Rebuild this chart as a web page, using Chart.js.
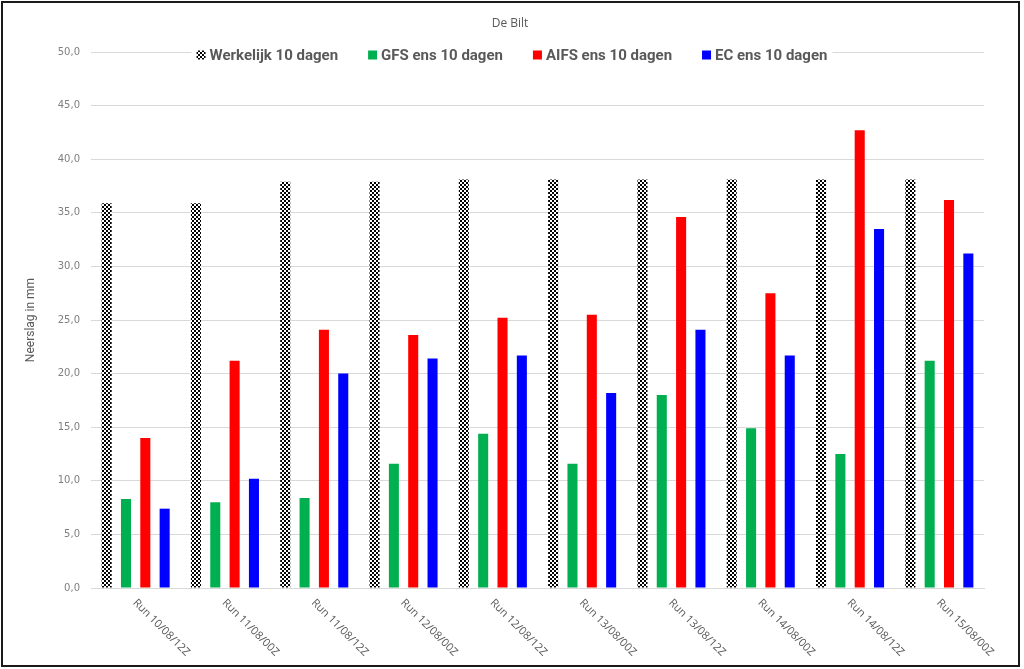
<!DOCTYPE html>
<html>
<head>
<meta charset="utf-8">
<title>De Bilt</title>
<script src="https://cdn.jsdelivr.net/npm/chart.js@4"></script>
<style>
  html, body { margin: 0; padding: 0; background: #fff; }
  #wrap { width: 1024px; height: 669px; position: relative; }
</style>
</head>
<body>
<div id="wrap"><canvas id="barChart" width="1024" height="669"></canvas></div>
<script>
// Values
const runs = ["Run 10/08/12Z", "Run 11/08/00Z", "Run 11/08/12Z", "Run 12/08/00Z", "Run 12/08/12Z",
	"Run 13/08/00Z", "Run 13/08/12Z", "Run 14/08/00Z", "Run 14/08/12Z", "Run 15/08/00Z"];
const werkelijk = [35.9, 35.9, 37.9, 37.9, 38.1, 38.1, 38.1, 38.1, 38.1, 38.1];
const gfs = [8.3, 8.0, 8.4, 11.6, 14.4, 11.6, 18.0, 14.9, 12.5, 21.2];
const aifs = [14.0, 21.2, 24.1, 23.6, 25.2, 25.5, 34.6, 27.5, 42.7, 36.2];
const ec = [7.4, 10.2, 20.0, 21.4, 21.7, 18.2, 24.1, 21.7, 33.5, 31.2];
const seriesNames = ["Werkelijk 10 dagen", "GFS ens 10 dagen", "AIFS ens 10 dagen", "EC ens 10 dagen"];

const textGray = "#595959";

// checkerboard fill for the "Werkelijk" bars
function checker() {
	const c = document.createElement("canvas");
	c.width = 4;
	c.height = 4;
	const g = c.getContext("2d");
	g.fillStyle = "#fff";
	g.fillRect(0, 0, 4, 4);
	g.fillStyle = "#000";
	g.fillRect(0, 0, 2, 2);
	g.fillRect(2, 2, 2, 2);
	return g.createPattern(c, "repeat");
}
const ctx = document.getElementById("barChart").getContext("2d");
const checkFill = checker();

// title, overlaid legend, slanted run labels and the outer frame
const decor = {
	id: "decor",
	afterDraw(chart) {
		const g = chart.ctx;
		const area = chart.chartArea;
		g.save();

		// title
		g.fillStyle = textGray;
		g.font = "12px 'Open Sans'";
		g.textAlign = "center";
		g.textBaseline = "middle";
		g.fillText("De Bilt", 510, 24);

		// legend with white backing over the top gridline
		g.font = "bold 15px Roboto";
		const box = 9, gapText = 4, gapItem = 30;
		const widths = seriesNames.map((n) => g.measureText(n).width);
		const total = widths.reduce((a, w) => a + box + gapText + w, 0) + gapItem * (seriesNames.length - 1);
		let x = 512 - total / 2;
		const ly = 55;
		g.fillStyle = "#fff";
		g.fillRect(x - 5, ly - 10, total + 10, 20);
		g.textAlign = "left";
		chart.data.datasets.forEach((ds, i) => {
			g.fillStyle = ds.backgroundColor;
			g.fillRect(x, ly - box / 2, box, box);
			g.fillStyle = textGray;
			g.fillText(seriesNames[i], x + box + gapText, ly + 1);
			x += box + gapText + widths[i] + gapItem;
		});

		// run labels, slanting down to the right
		const xs = chart.scales.x;
		g.font = "11px 'Open Sans'";
		g.fillStyle = textGray;
		g.textBaseline = "middle";
		runs.forEach((r, i) => {
			const px = xs.getPixelForValue(i);
			g.save();
			g.translate(px - 1, area.bottom + 13);
			g.rotate(Math.PI / 4);
			g.fillText(r, 0, 0);
			g.restore();
		});

		// frame
		g.strokeStyle = "#1a1a1a";
		g.lineWidth = 2;
		g.strokeRect(2, 2, 1017, 664);
		g.restore();
	},
};

new Chart(ctx, {
	type: "bar",
	data: {
		labels: runs,
		datasets: [
			{ label: seriesNames[0], data: werkelijk, backgroundColor: checkFill },
			{ label: seriesNames[1], data: gfs, backgroundColor: "#00B050" },
			{ label: seriesNames[2], data: aifs, backgroundColor: "#FF0000" },
			{ label: seriesNames[3], data: ec, backgroundColor: "#0000FF" },
		],
	},
	options: {
		responsive: false,
		animation: false,
		layout: { padding: { top: 52, right: 40, left: 0, bottom: 0 } },
		datasets: {
			bar: { categoryPercentage: 0.866, barPercentage: 0.52 },
		},
		plugins: {
			legend: { display: false },
			title: { display: false },
			tooltip: { enabled: false },
		},
		scales: {
			x: {
				grid: { display: false },
				border: { color: "#D9D9D9" },
				ticks: { display: false },
				afterFit: (s) => { s.height = 81; },
			},
			y: {
				min: 0,
				max: 50,
				ticks: {
					stepSize: 5,
					padding: 11,
					color: "#7F7F7F",
					font: { family: "'DejaVu Sans'", size: 10 },
					callback: (v) => v.toFixed(1).replace(".", ","),
				},
				grid: { color: "#D9D9D9", drawTicks: false },
				border: { display: false },
				title: {
					display: true,
					text: "Neerslag in mm",
					color: textGray,
					font: { family: "Roboto", size: 12 },
					padding: { top: 24, bottom: 0 },
				},
				afterFit: (s) => { s.width = 91; },
			},
		},
	},
	plugins: [decor],
});
</script>
</body>
</html>
